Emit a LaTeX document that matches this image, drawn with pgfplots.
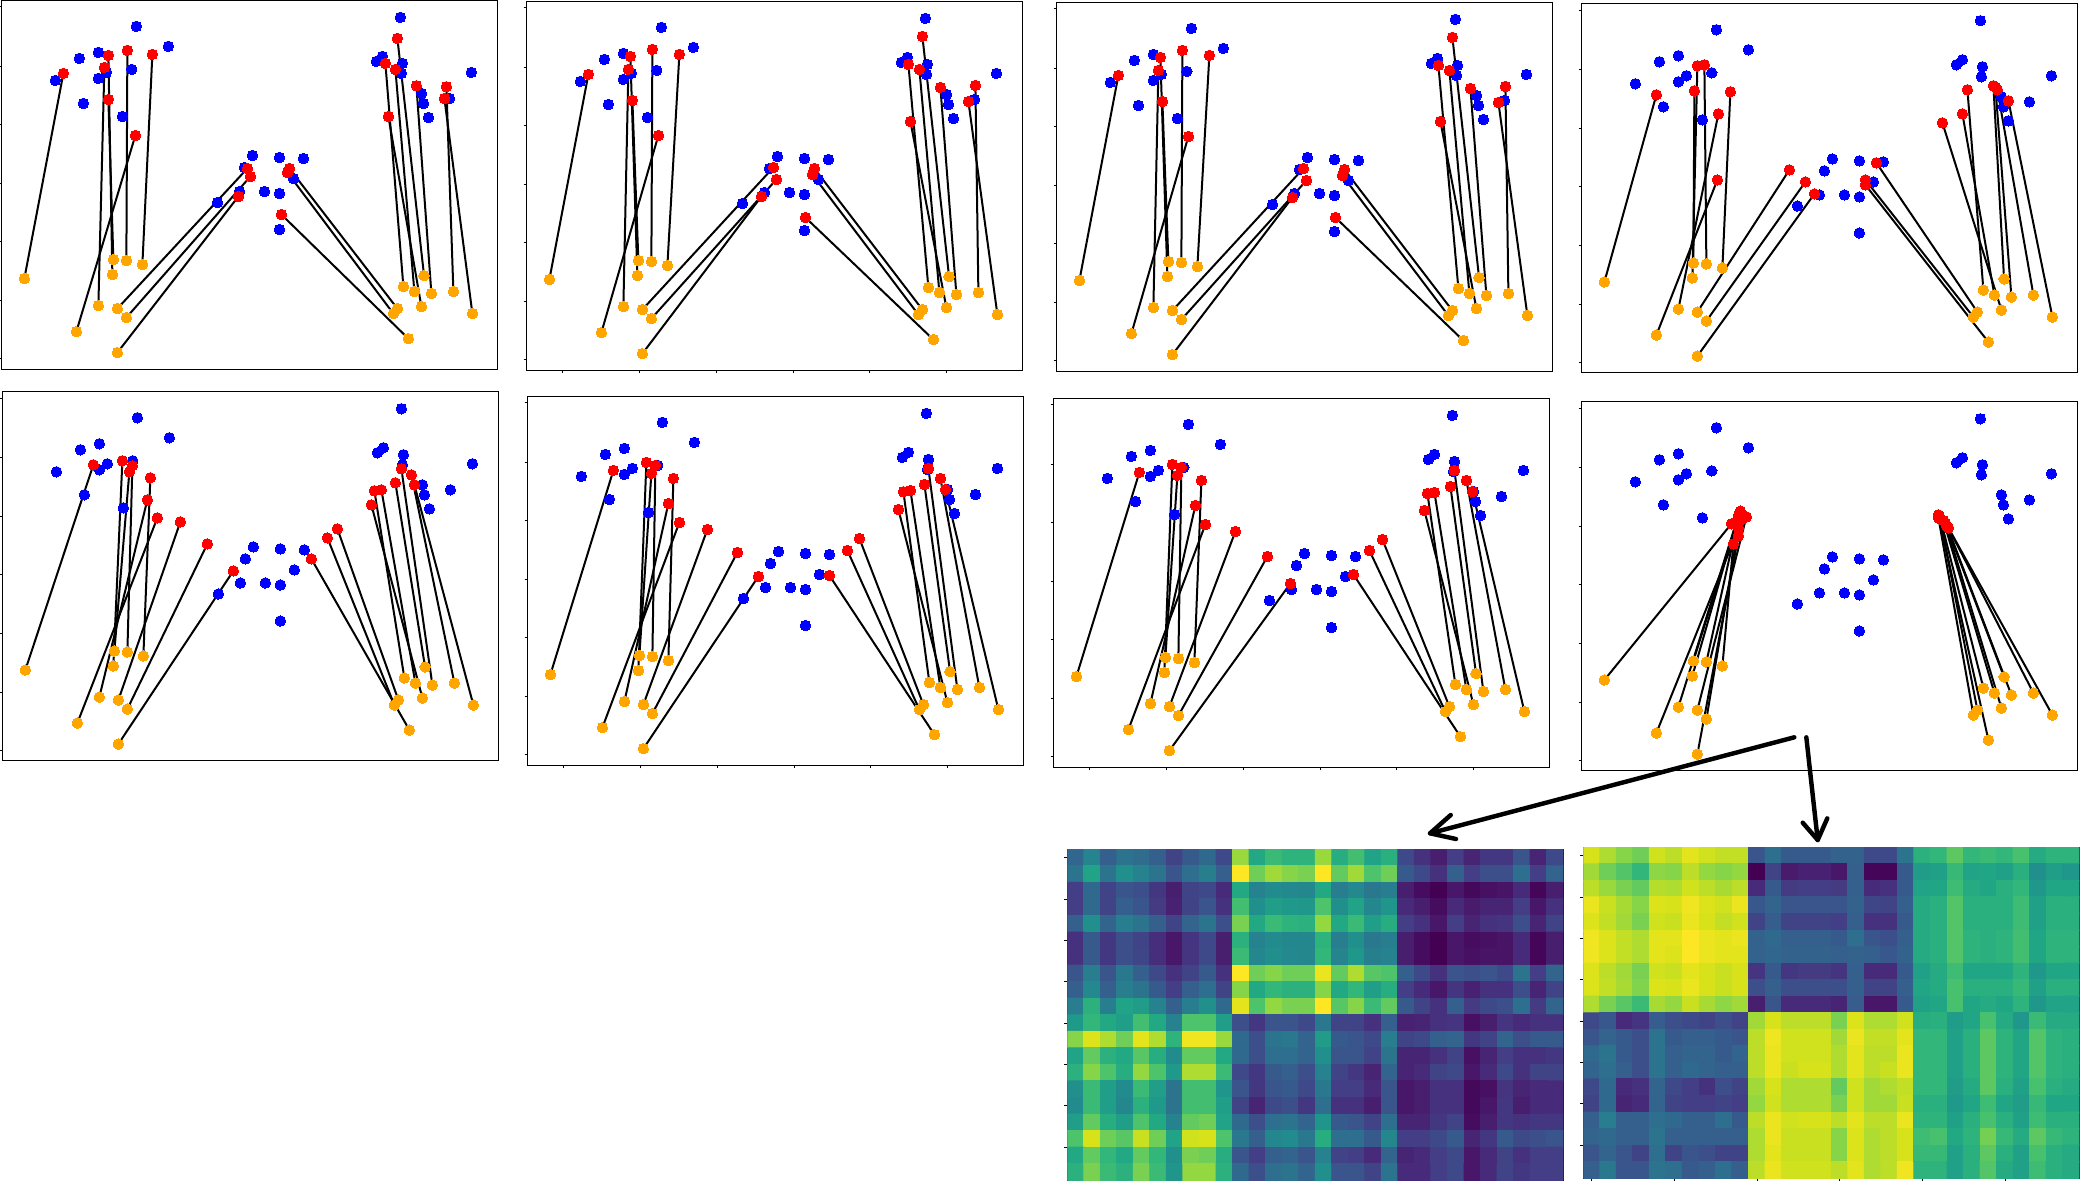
\documentclass[border=0pt]{standalone}
\usepackage{pgfplots}
\usepackage{pgfplotstable}
\pgfplotsset{compat=1.18}
\definecolor{dotorange}{HTML}{FFA500}
\pgfplotstableread{
x y
409 79
505 139
295 157
238 175
395 208
319 217
295 235
166 241
250 310
367 349
1201 52
1147 169
1129 184
1207 190
1204 220
1414 217
1264 280
1348 295
1270 310
1285 352
757 466
838 472
910 475
733 502
880 535
718 574
793 574
838 580
652 607
838 688
}\blueT
\pgfplotstableread{
ox oy rx ry
73 835 190 220
229 994 406 406
295 916 313 202
340 778 325 298
337 823 325 166
379 781 382 151
427 793 457 163
352 925 742 505
379 952 751 529
352 1057 715 589
1225 1015 844 643
1192 925 868 505
1180 940 862 517
1210 859 1156 190
1243 874 1186 208
1264 919 1165 349
1272 826 1192 115
1294 880 1249 257
1360 874 1339 260
1417 940 1333 295
}\pA
\pgfplotstableread{
ox oy rx ry
73 835 190 220
229 994 400 403
295 916 310 205
340 778 322 298
337 823 316 166
379 781 382 145
427 793 463 160
352 925 745 499
379 952 754 535
352 1057 709 586
1225 1015 841 649
1192 925 868 502
1180 940 862 520
1210 859 1150 190
1243 874 1183 205
1264 919 1156 361
1272 826 1192 106
1294 880 1246 259
1360 874 1351 253
1417 940 1330 301
}\pB
\pgfplotstableread{
ox oy rx ry
73 835 190 220
229 994 400 403
295 916 310 205
340 778 322 298
337 823 316 166
379 781 382 145
427 793 463 160
352 925 745 499
379 952 754 535
352 1057 712 586
1225 1015 841 646
1192 925 868 502
1180 940 862 520
1210 859 1150 190
1243 874 1183 205
1264 919 1156 358
1272 826 1192 106
1294 880 1246 259
1360 874 1351 253
1417 940 1330 301
}\pC
\pgfplotstableread{
ox oy rx ry
73 835 229 274
229 994 412 529
295 916 415 331
340 778 343 262
337 823 352 187
379 781 373 184
427 793 451 265
352 925 628 499
379 952 676 535
352 1057 703 571
1225 1015 856 544
1192 925 889 478
1180 940 856 529
1210 859 1162 259
1243 874 1147 331
1264 919 1087 358
1272 826 1240 247
1294 880 1246 251
1360 874 1252 259
1417 940 1285 292
}\pD
\pgfplotstableread{
ox oy rx ry
73 835 277 220
229 994 469 379
295 916 439 325
340 778 385 241
337 823 364 208
379 781 394 223
427 793 448 259
352 925 538 391
379 952 619 457
352 1057 697 538
1225 1015 931 502
1192 925 1009 412
1180 940 979 439
1210 859 1120 298
1243 874 1141 295
1264 919 1111 340
1272 826 1183 274
1294 880 1201 232
1360 874 1231 250
1417 940 1240 280
}\pE
\pgfplotstableread{
ox oy rx ry
73 835 262 223
229 994 460 379
295 916 427 322
340 778 376 232
337 823 361 199
379 781 388 208
427 793 442 247
352 925 544 400
379 952 634 469
352 1057 697 541
1225 1015 910 538
1192 925 1000 427
1180 940 964 463
1210 859 1132 287
1243 874 1153 283
1264 919 1117 340
1272 826 1195 265
1294 880 1207 217
1360 874 1243 247
1417 940 1258 280
}\pF
\pgfplotstableread{
ox oy rx ry
73 835 262 223
229 994 460 379
295 916 430 322
340 778 376 232
337 823 361 199
379 781 388 208
427 793 448 247
352 925 550 400
379 952 646 475
352 1057 715 556
1225 1015 904 529
1192 925 991 424
1180 940 952 457
1210 859 1126 286
1243 874 1147 283
1264 919 1117 337
1272 826 1195 265
1294 880 1207 217
1360 874 1243 247
1417 940 1261 280
}\pG
\pgfplotstableread{
ox oy rx ry
73 835 454 367
229 994 487 352
295 916 469 361
340 778 481 329
337 823 475 342
379 781 478 334
427 793 460 427
352 925 499 346
379 952 475 379
352 1057 475 403
1225 1015 1075 340
1192 925 1078 344
1180 940 1075 349
1210 859 1081 352
1243 874 1090 357
1264 919 1096 364
1272 826 1099 373
1294 880 1102 376
1360 874 1105 379
1417 940 1105 379
}\pH
\pgfplotstableread[row sep=crcr]{
c\\
33\\45\\30\\38\\35\\30\\20\\28\\34\\22\\85\\60\\68\\65\\65\\85\\62\\70\\58\\63\\22\\14\\8\\18\\10\\16\\16\\26\\10\\22\\
38\\58\\38\\50\\44\\38\\26\\36\\43\\30\\100\\78\\86\\82\\80\\100\\76\\86\\72\\78\\28\\22\\14\\30\\18\\24\\24\\36\\18\\32\\
18\\34\\20\\26\\24\\16\\8\\20\\22\\12\\60\\44\\48\\47\\46\\60\\42\\47\\40\\42\\8\\3\\0\\6\\2\\4\\5\\12\\1\\8\\
18\\34\\20\\30\\26\\17\\9\\20\\26\\14\\70\\50\\56\\54\\53\\72\\50\\58\\46\\52\\12\\8\\3\\12\\7\\10\\10\\18\\6\\14\\
30\\50\\32\\42\\38\\30\\20\\32\\38\\24\\80\\60\\68\\65\\64\\84\\60\\68\\56\\62\\18\\14\\6\\18\\10\\14\\15\\24\\10\\20\\
14\\28\\16\\24\\20\\13\\6\\15\\22\\8\\64\\44\\48\\46\\46\\65\\42\\50\\40\\42\\8\\3\\0\\6\\3\\4\\5\\12\\1\\8\\
14\\28\\16\\24\\21\\13\\6\\15\\22\\8\\68\\46\\50\\47\\46\\66\\45\\53\\43\\44\\8\\3\\0\\6\\4\\5\\5\\12\\1\\8\\
26\\42\\26\\40\\30\\22\\14\\20\\28\\14\\100\\78\\82\\78\\78\\97\\76\\88\\74\\72\\30\\22\\14\\26\\24\\26\\22\\38\\18\\32\\
30\\47\\30\\42\\38\\28\\18\\30\\36\\20\\82\\60\\66\\64\\64\\82\\60\\66\\56\\62\\18\\12\\6\\15\\9\\14\\14\\24\\10\\20\\
42\\64\\42\\58\\55\\44\\30\\42\\50\\34\\96\\72\\84\\80\\80\\100\\74\\82\\68\\76\\28\\20\\14\\30\\17\\22\\24\\36\\17\\32\\
54\\66\\60\\56\\70\\60\\44\\72\\72\\56\\24\\16\\26\\26\\22\\40\\20\\20\\14\\30\\9\\10\\14\\15\\4\\8\\15\\12\\14\\14\\
82\\95\\88\\78\\96\\88\\65\\98\\98\\85\\34\\24\\38\\40\\32\\55\\28\\26\\22\\42\\20\\22\\30\\32\\16\\20\\32\\24\\28\\28\\
58\\76\\64\\60\\74\\62\\48\\76\\76\\60\\34\\24\\36\\36\\32\\50\\26\\26\\20\\38\\10\\10\\14\\20\\4\\10\\18\\14\\14\\16\\
64\\82\\72\\62\\84\\72\\54\\88\\88\\68\\22\\16\\28\\30\\24\\44\\20\\16\\10\\32\\10\\12\\20\\22\\6\\12\\22\\14\\20\\20\\
50\\68\\56\\48\\68\\56\\38\\70\\70\\52\\26\\16\\26\\28\\22\\40\\18\\18\\12\\26\\6\\8\\14\\14\\2\\4\\15\\10\\12\\12\\
48\\68\\56\\46\\64\\54\\38\\70\\70\\56\\20\\10\\22\\24\\16\\36\\14\\14\\8\\26\\6\\8\\14\\14\\2\\6\\16\\8\\12\\12\\
56\\76\\62\\56\\72\\60\\44\\76\\78\\58\\34\\24\\36\\38\\32\\52\\28\\26\\20\\36\\10\\10\\16\\20\\3\\8\\16\\14\\16\\16\\
72\\94\\78\\74\\92\\78\\58\\93\\94\\72\\40\\30\\46\\48\\40\\62\\36\\36\\28\\46\\18\\18\\22\\28\\10\\16\\28\\22\\24\\26\\
60\\76\\66\\60\\76\\66\\50\\80\\78\\62\\26\\18\\30\\32\\26\\44\\20\\18\\12\\32\\10\\12\\18\\22\\6\\12\\20\\14\\18\\18\\
64\\80\\68\\64\\80\\68\\52\\84\\84\\64\\34\\24\\36\\38\\32\\50\\26\\26\\20\\38\\12\\12\\18\\22\\6\\12\\20\\16\\18\\18\\
}\hA
\pgfplotstableread[row sep=crcr]{
c\\
94\\88\\82\\78\\93\\90\\96\\93\\91\\91\\26\\36\\28\\28\\28\\31\\31\\22\\22\\38\\64\\66\\75\\66\\68\\66\\71\\61\\65\\65\\
86\\78\\73\\66\\83\\82\\90\\84\\82\\84\\0\\20\\7\\9\\9\\6\\30\\1\\1\\28\\55\\57\\67\\58\\59\\57\\63\\50\\56\\53\\
90\\85\\80\\76\\89\\88\\93\\90\\87\\90\\12\\28\\17\\18\\18\\17\\30\\12\\14\\28\\58\\59\\69\\61\\59\\63\\66\\53\\59\\59\\
97\\92\\87\\82\\95\\94\\98\\95\\93\\97\\27\\32\\26\\26\\26\\26\\31\\21\\20\\30\\61\\63\\73\\63\\63\\63\\69\\57\\63\\63\\
95\\91\\86\\80\\93\\92\\97\\94\\91\\93\\20\\29\\20\\20\\20\\18\\30\\14\\14\\28\\61\\63\\73\\63\\63\\63\\69\\57\\63\\63\\
98\\95\\91\\88\\96\\96\\100\\97\\96\\97\\31\\34\\30\\30\\30\\28\\36\\26\\24\\30\\61\\63\\73\\65\\63\\65\\70\\59\\65\\65\\
98\\95\\91\\88\\96\\95\\100\\97\\96\\96\\31\\33\\31\\31\\31\\30\\31\\30\\27\\31\\61\\63\\73\\65\\63\\65\\70\\59\\65\\65\\
95\\90\\86\\80\\93\\92\\96\\94\\92\\94\\15\\28\\16\\17\\17\\15\\30\\12\\12\\28\\57\\61\\69\\59\\59\\59\\65\\53\\59\\59\\
95\\91\\87\\81\\95\\94\\97\\94\\92\\94\\24\\30\\24\\24\\24\\24\\30\\20\\20\\30\\59\\61\\71\\63\\63\\63\\67\\57\\63\\63\\
88\\80\\74\\68\\87\\84\\92\\87\\83\\86\\8\\26\\12\\12\\12\\10\\29\\6\\6\\28\\57\\59\\71\\59\\61\\59\\65\\53\\58\\58\\
22\\27\\12\\15\\29\\24\\22\\20\\24\\20\\86\\94\\90\\90\\90\\80\\95\\88\\88\\93\\62\\63\\55\\59\\71\\61\\53\\68\\61\\61\\
26\\32\\28\\24\\38\\28\\30\\30\\28\\26\\90\\98\\93\\93\\93\\86\\97\\91\\91\\96\\66\\66\\57\\63\\75\\65\\59\\73\\65\\63\\
34\\38\\28\\24\\38\\30\\32\\32\\28\\32\\90\\97\\93\\93\\93\\88\\96\\90\\90\\97\\66\\66\\57\\63\\75\\65\\59\\73\\65\\63\\
32\\36\\30\\24\\38\\30\\34\\32\\30\\30\\90\\97\\92\\94\\94\\88\\96\\90\\92\\97\\66\\66\\57\\63\\75\\65\\59\\73\\65\\63\\
22\\34\\12\\14\\32\\22\\18\\14\\24\\20\\86\\94\\88\\88\\88\\76\\93\\86\\88\\91\\66\\66\\55\\61\\75\\63\\57\\71\\63\\61\\
20\\34\\10\\12\\32\\20\\18\\18\\20\\18\\84\\93\\88\\88\\88\\80\\93\\86\\86\\92\\63\\63\\54\\59\\69\\59\\55\\67\\59\\59\\
30\\42\\30\\30\\36\\34\\30\\30\\36\\28\\90\\97\\93\\94\\94\\90\\96\\90\\90\\97\\65\\65\\57\\63\\71\\63\\57\\69\\63\\63\\
32\\34\\30\\30\\38\\30\\30\\30\\30\\30\\88\\97\\92\\92\\92\\82\\95\\88\\90\\94\\69\\71\\60\\65\\79\\67\\61\\75\\67\\65\\
26\\32\\26\\20\\36\\20\\26\\24\\20\\20\\88\\96\\92\\92\\92\\82\\95\\88\\90\\94\\67\\67\\57\\63\\75\\63\\57\\71\\63\\61\\
30\\40\\26\\26\\38\\36\\28\\30\\36\\30\\90\\97\\93\\93\\93\\90\\96\\88\\90\\98\\65\\65\\57\\63\\73\\61\\57\\69\\63\\61\\
}\hB
\pgfplotsset{
  common/.style={
    scale only axis,
    anchor=north west,
    axis line style={line width=0.42pt,black},
    tick align=outside,
    major tick length=1.1pt,
    tick style={line width=0.3pt,black},
    xticklabels={},yticklabels={},
    y dir=reverse,
    ytick pos=left,
    xtick pos=lower,
  },
  dot/.style={only marks,mark=*,mark size=1.9pt,color=#1,mark options={draw=#1,fill=#1,line width=0pt}},
}
% #1 table, #2 left px, #3 top px, #4 x tick list
\newcommand\panel[4]{%
\begin{axis}[common,
  at={(#2*0.36pt,-#3*0.36pt)},
  width=178.45pt,height=132.84pt,
  xmin=5,xmax=1492,ymin=1,ymax=1107,
  xtick=#4,
  ytick={20,198,374,549,725,901,1075},
  clip=false]
\addplot[dot=blue] table[x=x,y=y]{\blueT};
\addplot[dot=dotorange] table[x=ox,y=oy]{#1};
\addplot[black,line width=0.72pt,-,quiver={u=\thisrow{rx}-\thisrow{ox},v=\thisrow{ry}-\thisrow{oy}}] table[x=ox,y=oy]{#1};
\addplot[dot=red] table[x=rx,y=ry]{#1};
\end{axis}}
\newcommand\heat[4]{%
\begin{axis}[common,
  at={(#2*0.36pt,-#3*0.36pt)},
  width=178.56pt,height=119.16pt,
  xmin=-0.5,xmax=29.5,ymin=-0.5,ymax=19.5,
  xtick=#4,
  ytick={0,2.5,5,7.5,10,12.5,15,17.5},
  colormap/viridis,point meta min=0,point meta max=100]
\addplot[matrix plot*,mesh/cols=30,point meta=explicit] table[x index=0,y index=0,meta index=0,x expr={floor(mod(\coordindex+0.5,30))},y expr={floor((\coordindex+0.5)/30)}]{#1};
\end{axis}}
\begin{document}
\begin{tikzpicture}
\path[use as bounding box] (0,0) rectangle (754.56pt,-428.4pt);
\panel{\pA}{1.7}{0.3}{\empty}
\panel{\pB}{526.7}{1.3}{{112,344,574,805,1033,1263}}
\panel{\pC}{1056.7}{2.3}{\empty}
\panel{\pD}{1581.7}{3.7}{\empty}
\panel{\pE}{2.7}{391.7}{\empty}
\panel{\pF}{527.7}{396.3}{{112,344,574,805,1033,1263}}
\panel{\pG}{1053.7}{398.3}{{112,344,574,805,1033,1263}}
\panel{\pH}{1581.7}{401.7}{\empty}
\heat{\hA}{1067.3}{849.3}{\empty}
\heat{\hB}{1583.3}{847.3}{{0,5,10,15,20,25}}
\begin{scope}[x=0.36pt,y=-0.36pt,line width=1.6pt,black,line cap=round,line join=round]
\draw (1794.3,737.3) -- (1430,833.3);
\draw (1450.7,815) -- (1430,833.3) -- (1456,839);
\draw (1806.3,737.3) -- (1817.7,840);
\draw (1802.7,822.7) -- (1817.7,840) -- (1827.3,818.3);
\end{scope}
\end{tikzpicture}
\end{document}
